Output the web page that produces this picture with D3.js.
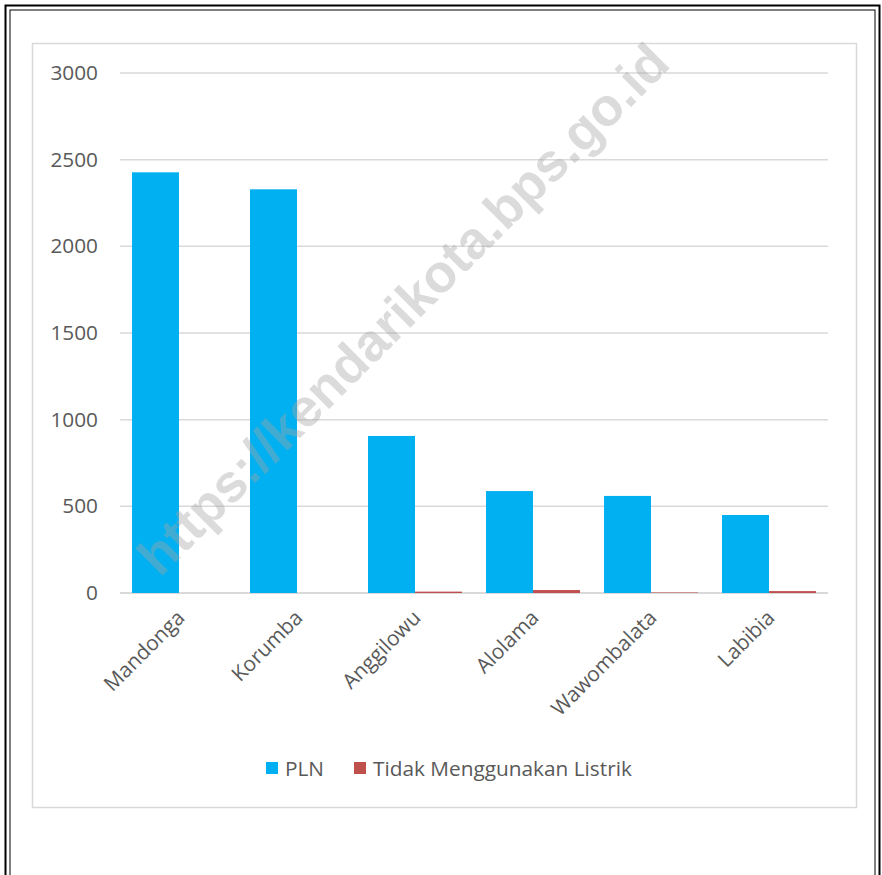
<!DOCTYPE html>
<html>
<head>
<meta charset="utf-8">
<script src="https://cdn.jsdelivr.net/npm/d3@7/dist/d3.min.js"></script>
<style>
  html, body { margin: 0; padding: 0; background: #fff; }
  svg { display: block; }
</style>
</head>
<body>
<div id="chart"></div>
<script>
// Households by source of lighting, per kelurahan
const categories = ["Mandonga", "Korumba", "Anggilowu", "Alolama", "Wawombalata", "Labibia"];
const seriesNames = ["PLN", "Tidak Menggunakan Listrik"];
const plnValues = [2427, 2329, 906, 588, 560, 450];
const noPowerValues = [0, 0, 8, 17, 3, 11];
const yTicks = [0, 500, 1000, 1500, 2000, 2500, 3000];
const seriesColors = ["#00b0f0", "#c0504d"];

const W = 882, H = 875;
const svg = d3.select("#chart").append("svg").attr("width", W).attr("height", H);

const font = "'Open Sans', 'Noto Sans', sans-serif";
const textColor = "#595959";
const fontSize = 20.8;

// page frame: thick outer rule and thin inner rule
svg.append("rect").attr("x", 5.5).attr("y", 5.5).attr("width", W - 8).attr("height", H)
  .attr("fill", "none").attr("stroke", "#000").attr("stroke-width", 2);
svg.append("rect").attr("x", 10).attr("y", 10).attr("width", W - 17).attr("height", H)
  .attr("fill", "none").attr("stroke", "#000").attr("stroke-width", 1);

// chart area box
svg.append("rect").attr("x", 32.5).attr("y", 43.5).attr("width", 824).attr("height", 764)
  .attr("fill", "#fff").attr("stroke", "#d9d9d9").attr("stroke-width", 1.5);

const plot = { left: 120, right: 828, top: 73, bottom: 593 };

const x0 = d3.scaleBand().domain(categories).range([plot.left, plot.right]).paddingInner(0).paddingOuter(0);
const x1 = d3.scaleBand().domain(seriesNames).range([0, x0.bandwidth()]).paddingInner(0).paddingOuter(0.255);
const y = d3.scaleLinear().domain([0, 3000]).range([plot.bottom, plot.top]);

// gridlines
svg.append("g").selectAll("line").data(yTicks).join("line")
  .attr("x1", plot.left).attr("x2", plot.right)
  .attr("y1", d => y(d)).attr("y2", d => y(d))
  .attr("stroke", "#d9d9d9").attr("stroke-width", d => d === 0 ? 2 : 1.5);

// y-axis labels
const yAxis = d3.axisLeft(y).tickValues(yTicks).tickFormat(d3.format("d")).tickSize(0).tickPadding(0);
const yg = svg.append("g").attr("transform", `translate(98,0)`).call(yAxis);
yg.select(".domain").remove();
yg.selectAll("text").attr("font-family", font).attr("font-size", fontSize).attr("fill", textColor);

// bars
const series = [plnValues, noPowerValues];
const groups = svg.append("g").selectAll("g").data(categories).join("g")
  .attr("transform", d => `translate(${x0(d)},0)`);
groups.selectAll("rect").data((c, i) => seriesNames.map((s, k) => ({ s, v: series[k][i], k })))
  .join("rect")
  .attr("x", d => x1(d.s))
  .attr("width", x1.bandwidth())
  .attr("y", d => y(d.v))
  .attr("height", d => plot.bottom - y(d.v))
  .attr("fill", d => seriesColors[d.k]);

// category labels, rotated
svg.append("g").selectAll("text").data(categories).join("text")
  .attr("transform", d => `translate(${x0(d) + x0.bandwidth() / 2 + 7},${plot.bottom + 26}) rotate(-45)`)
  .attr("text-anchor", "end")
  .attr("font-family", font).attr("font-size", fontSize).attr("fill", textColor)
  .text(d => d);

// legend
const legend = svg.append("g");
const legendItems = [{ x: 266, name: seriesNames[0], c: seriesColors[0] }, { x: 354, name: seriesNames[1], c: seriesColors[1] }];
legendItems.forEach(it => {
  legend.append("rect").attr("x", it.x).attr("y", 762).attr("width", 12).attr("height", 12).attr("fill", it.c);
  legend.append("text").attr("x", it.x + 19).attr("y", 776)
    .attr("font-family", font).attr("font-size", fontSize).attr("fill", textColor).text(it.name);
});

// watermark
svg.append("text")
  .attr("transform", "translate(160,578) rotate(-45)")
  .attr("font-family", "'Liberation Sans', Arial, sans-serif").attr("font-weight", "bold")
  .attr("font-size", 53).attr("fill", "#a6a6a6").attr("fill-opacity", 0.4)
  .text("https://kendarikota.bps.go.id");
</script>
</body>
</html>
